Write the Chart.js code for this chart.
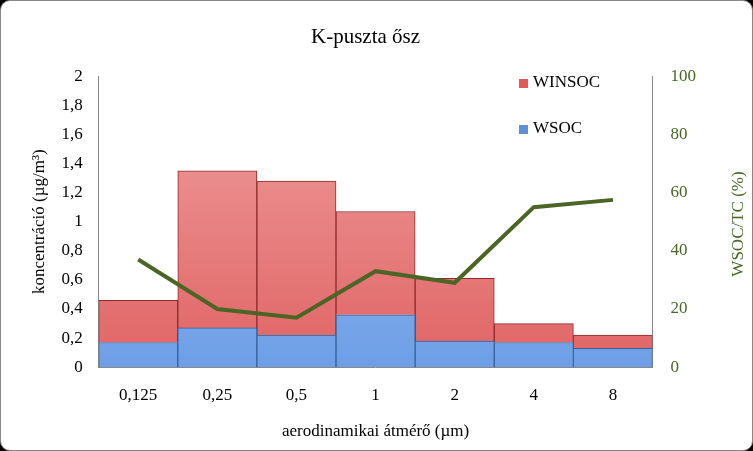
<!DOCTYPE html>
<html><head><meta charset="utf-8">
<script src="https://cdn.jsdelivr.net/npm/chart.js@4"></script>
<style>
html,body{margin:0;padding:0;background:#000;}
#wrap{position:absolute;left:0;top:0;width:751px;height:449px;background:#fff;border:1px solid #888;border-radius:10px;overflow:hidden;}
</style></head><body>
<div id="wrap"><canvas id="c" width="751" height="449"></canvas></div>
<script>
const categories = ['0,125','0,25','0,5','1','2','4','8'];
const wsoc = [0.17,0.27,0.22,0.36,0.18,0.17,0.13];
const winsoc = [0.29,1.08,1.06,0.71,0.43,0.13,0.09];
const ratio = [37,20,17,33,29,55,57.5];
const FONT = "'Liberation Serif', serif";

function barFill(light, mid){
  return (c) => {
    const ch = c.chart; const {ctx, chartArea} = ch;
    if(!chartArea) return mid;
    const g = ctx.createLinearGradient(0, chartArea.top, 0, chartArea.bottom);
    g.addColorStop(0, light); g.addColorStop(1, mid);
    return g;
  };
}
const legendPlugin = {
  id:'lg',
  afterDraw(ch){
    const ctx = ch.ctx;
    ctx.save();
    const items=[['WINSOC','#e05a5a',82],['WSOC','#5b8fd8',128]];
    ctx.font = "17px "+FONT; ctx.textBaseline='middle';
    for(const [t,c,y] of items){
      ctx.fillStyle=c; ctx.fillRect(518,y-4,9,9);
      ctx.fillStyle='#000'; ctx.fillText(t,532,y);
    }
    ctx.translate(738, 223); ctx.rotate(-Math.PI/2);
    ctx.textAlign='center'; ctx.fillStyle='#4a6524';
    ctx.fillText('WSOC/TC (%)',0,0);
    ctx.restore();
  }
};
new Chart(document.getElementById('c'), {
  data:{ labels:categories, datasets:[
    {type:'line', label:'WSOC/TC', data:ratio, yAxisID:'y1', borderColor:'#4a6524', borderWidth:4, pointRadius:0, order:0, tension:0},
    {type:'bar', label:'WSOC', data:wsoc, yAxisID:'y', stack:'s', backgroundColor:barFill('#a9c6f2','#6d9ee6'), borderColor:'#345f9c', borderWidth:1, barPercentage:1, categoryPercentage:1, order:1},
    {type:'bar', label:'WINSOC', data:winsoc, yAxisID:'y', stack:'s', backgroundColor:barFill('#f0a0a0','#e06464'), borderColor:'#8f2a2a', borderWidth:1, barPercentage:1, categoryPercentage:1, order:1}
  ]},
  options:{
    responsive:false, animation:false,
    layout:{padding:{left:24,right:46,top:6,bottom:4}},
    plugins:{ legend:{display:false}, tooltip:{enabled:false},
      title:{display:true, text:'K-puszta ősz', color:'#000', font:{family:FONT, size:21, weight:'normal'}, padding:{top:18,bottom:26}} },
    scales:{
      x:{ stacked:true, grid:{display:false}, border:{color:'#888'},
        ticks:{color:'#000', font:{family:FONT,size:17}, padding:10},
        title:{display:true, text:'aerodinamikai átmérő (µm)', color:'#000', font:{family:FONT,size:17}, padding:{top:6}} },
      y:{ stacked:true, min:0, max:2, position:'left', grid:{display:false}, border:{color:'#888'},
        ticks:{stepSize:0.2, color:'#000', font:{family:FONT,size:17}, padding:8, callback:v=>String(Math.round(v*10)/10).replace('.',',')},
        title:{display:true, text:'koncentráció (µg/m³)', color:'#000', font:{family:FONT,size:17}} },
      y1:{ min:0, max:100, position:'right', grid:{display:false}, border:{color:'#888'},
        ticks:{stepSize:20, color:'#4a6524', font:{family:FONT,size:17}, padding:10} }
    }
  },
  plugins:[legendPlugin]
});
</script></body></html>
